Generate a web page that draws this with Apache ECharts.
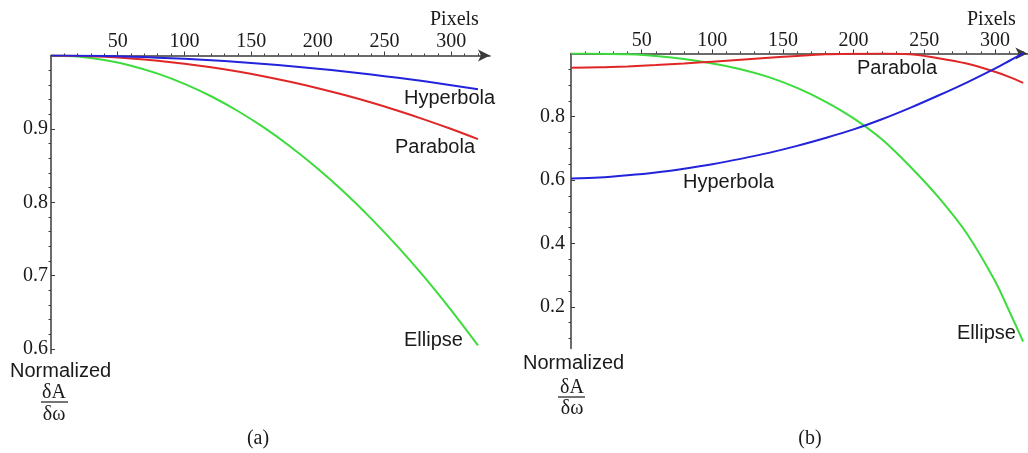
<!DOCTYPE html>
<html>
<head>
<meta charset="utf-8">
<script src="https://cdn.jsdelivr.net/npm/echarts@6/dist/echarts.min.js"></script>
<style>
html,body{margin:0;padding:0;background:#fff;}
#chart{width:1028px;height:453px;}
</style>
</head>
<body>
<div id="chart"></div>
<script>
// ---- data (panel a) ----
const leftX = [0,20,40,60,80,100,120,140,160,180,200,220,240,260,280,300,320];
const leftHyperbola = [1.000,0.9998,0.9993,0.9984,0.9971,0.9955,0.9935,0.9912,0.9885,0.9854,0.9820,0.9783,0.9741,0.9696,0.9648,0.9596,0.9540];
const leftParabola  = [1.000,0.9996,0.9982,0.9960,0.9929,0.9889,0.9840,0.9782,0.9715,0.9639,0.9555,0.9461,0.9359,0.9247,0.9127,0.8998,0.8860];
const leftEllipse   = [1.000,0.9985,0.9938,0.9861,0.9753,0.9614,0.9445,0.9244,0.9013,0.8750,0.8457,0.8133,0.7778,0.7392,0.6976,0.6528,0.6050];
// ---- data (panel b) ----
const rightX = [0,20,40,60,80,100,120,140,160,180,200,220,240,260,280,300,310,320];
const rightHyperbola = [0.605,0.608,0.615,0.624,0.636,0.650,0.667,0.686,0.708,0.733,0.760,0.792,0.828,0.867,0.908,0.952,0.976,1.000];
const rightParabola  = [0.955,0.956,0.959,0.963,0.968,0.974,0.980,0.986,0.992,0.997,0.999,1.000,0.997,0.985,0.968,0.942,0.926,0.907];
const rightEllipse   = [1.000,0.999,0.997,0.992,0.982,0.968,0.950,0.925,0.891,0.848,0.795,0.729,0.643,0.546,0.432,0.282,0.188,0.090];
// ---- tick labels ----
const xTickLabels = [50,100,150,200,250,300];
const xMinorTicks = [10,20,30,40,60,70,80,90,110,120,130,140,160,170,180,190,210,220,230,240,260,270,280,290,310,320];
const leftYTickLabels = [0.6,0.7,0.8,0.9];
const leftYMinorTicks = [0.62,0.64,0.66,0.68,0.72,0.74,0.76,0.78,0.82,0.84,0.86,0.88,0.92,0.94,0.96,0.98];
const rightYTickLabels = [0.2,0.4,0.6,0.8];
const rightYMinorTicks = [0.1,0.15,0.25,0.3,0.35,0.45,0.5,0.55,0.65,0.7,0.75,0.85,0.9,0.95];

const SERIF = '"Liberation Serif","Times New Roman",serif';
const SANS = '"Liberation Sans",Arial,sans-serif';
const AX = '#3a3a3a';
const TXT = '#1a1a1a';
const BLUE = '#2323dc', RED = '#e02626', GREEN = '#3ddc3d';

function pairs(xs, ys){ return xs.map((x,i)=>[x, ys[i]]); }

function xAxes(grid, max, labelMargin, arrow){
  return [
    {type:'value', gridIndex:grid, position:'top', min:0, max:max,
     axisLine:{show:true, onZero:false, lineStyle:{color:AX, width:1.5}, symbol:arrow?['none','arrow']:'none', symbolSize:[9,12]},
     axisTick:{show:true, length:4, lineStyle:{color:AX}, customValues:xTickLabels},
     axisLabel:{show:true, margin:labelMargin, fontFamily:SERIF, fontSize:20, color:TXT, customValues:xTickLabels},
     splitLine:{show:false}},
    {type:'value', gridIndex:grid, position:'top', min:0, max:max,
     axisLine:{show:false},
     axisTick:{show:true, length:2, lineStyle:{color:AX}, customValues:xMinorTicks},
     axisLabel:{show:false}, splitLine:{show:false}}
  ];
}
function yAxes(grid, min, labels, minors, labelMargin){
  return [
    {type:'value', gridIndex:grid, min:min, max:1.0,
     axisLine:{show:true, onZero:false, lineStyle:{color:AX, width:1.5}},
     axisTick:{show:true, inside:true, length:4, lineStyle:{color:AX}, customValues:labels},
     axisLabel:{show:true, margin:labelMargin, fontFamily:SERIF, fontSize:20, color:TXT, customValues:labels, formatter:v=>String(+v.toFixed(2))},
     splitLine:{show:false}},
    {type:'value', gridIndex:grid, min:min, max:1.0,
     axisLine:{show:false},
     axisTick:{show:true, inside:true, length:2.5, lineStyle:{color:AX}, customValues:minors},
     axisLabel:{show:false}, splitLine:{show:false}}
  ];
}
function line(name, xs, ys, color, xi, yi){
  return {type:'line', name:name, xAxisIndex:xi, yAxisIndex:yi, data:pairs(xs,ys),
    showSymbol:false, smooth:0.3, lineStyle:{color:color, width:2}, itemStyle:{color:color}, silent:true};
}
function txt(text, x, y, font, align){
  return {type:'text', x:x, y:y, style:{text:text, font:font, fill:TXT, textAlign:align||'left', textVerticalAlign:'middle'}};
}
function hline(x1, x2, y){
  return {type:'line', shape:{x1:x1, y1:y, x2:x2, y2:y}, style:{stroke:TXT, lineWidth:1.2}};
}

const chart = echarts.init(document.getElementById('chart'), null, {renderer:'canvas'});
chart.setOption({
  animation:false,
  backgroundColor:'#fff',
  grid:[
    {left:51, top:55.5, width:439, height:298},
    {left:571, top:53.4, width:456.4, height:295.2}
  ],
  xAxis:[].concat(xAxes(0, 329, 4, true), xAxes(1, 323, 3, true)),
  yAxis:[].concat(yAxes(0, 0.594, leftYTickLabels, leftYMinorTicks, 3), yAxes(1, 0.068, rightYTickLabels, rightYMinorTicks, 6)),
  series:[
    line('Ellipse', leftX, leftEllipse, GREEN, 0, 0),
    line('Parabola', leftX, leftParabola, RED, 0, 0),
    line('Hyperbola', leftX, leftHyperbola, BLUE, 0, 0),
    line('Ellipse', rightX, rightEllipse, GREEN, 2, 2),
    line('Parabola', rightX, rightParabola, RED, 2, 2),
    line('Hyperbola', rightX, rightHyperbola, BLUE, 2, 2)
  ],
  graphic:[
    txt('Pixels', 430, 20, '20px ' + SERIF),
    txt('Hyperbola', 404, 98, '20px ' + SANS),
    txt('Parabola', 395, 147, '20px ' + SANS),
    txt('Ellipse', 404, 340, '20px ' + SANS),
    txt('Normalized', 10, 371, '20px ' + SANS),
    txt('δA', 54, 393, '20px ' + SERIF, 'center'),
    hline(41, 68, 402),
    txt('δω', 54, 415, '20px ' + SERIF, 'center'),
    txt('(a)', 258, 439, '20px ' + SERIF, 'center'),

    txt('Pixels', 967, 20, '20px ' + SERIF),
    txt('Parabola', 857, 68, '20px ' + SANS),
    txt('Hyperbola', 683, 182, '20px ' + SANS),
    txt('Ellipse', 957, 333, '20px ' + SANS),
    txt('Normalized', 523, 363, '20px ' + SANS),
    txt('δA', 572, 388, '20px ' + SERIF, 'center'),
    hline(558, 585, 397),
    txt('δω', 572, 408.5, '20px ' + SERIF, 'center'),
    txt('(b)', 810, 439, '20px ' + SERIF, 'center')
  ]
});
</script>
</body>
</html>
